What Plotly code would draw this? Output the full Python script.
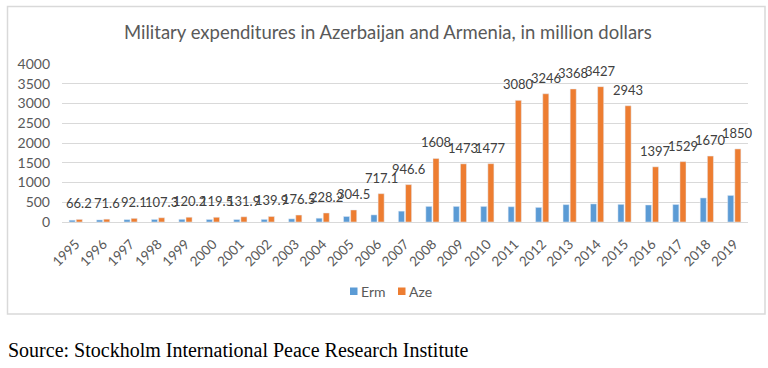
import plotly.graph_objects as go

years = [str(y) for y in range(1995, 2020)]
erm = [46, 53, 60, 65, 68, 64, 62, 66, 80, 96, 140, 180, 275, 395, 395, 395, 387, 370, 440, 458, 447, 431, 444, 609, 673]
aze = [66.2, 71.6, 92.1, 107.3, 120.2, 119.5, 131.9, 139.9, 176.5, 228.2, 304.5, 717.1, 946.6,
       1608, 1473, 1477, 3080, 3246, 3368, 3427, 2943, 1397, 1529, 1670, 1850]
aze_labels = ["66.2", "71.6", "92.1", "107.3", "120.2", "119.5", "131.9", "139.9", "176.5", "228.2",
              "304.5", "717.1", "946.6", "1608", "1473", "1477", "3080", "3246", "3368", "3427",
              "2943", "1397", "1529", "1670", "1850"]
y_ticks = [0, 500, 1000, 1500, 2000, 2500, 3000, 3500, 4000]
series_names = ["Erm", "Aze"]
series_colors = ["#5B9BD5", "#ED7D31"]

title_text = "Military expenditures in Azerbaijan and Armenia, in million dollars"
source_text = "Source: Stockholm International Peace Research Institute"

W, H = 768, 368
L, R, T, B = 62, 20, 64, 146
pw, ph = W - L - R, H - T - B

def px_x(p):
    return (p - L) / pw

def px_y(p):
    return (H - B - p) / ph

font = "Lato, 'Open Sans', sans-serif"
grey = "#595959"

fig = go.Figure()
fig.add_trace(go.Bar(x=years, y=erm, name=series_names[0], marker_color=series_colors[0]))
fig.add_trace(go.Bar(x=years, y=aze, name=series_names[1], marker_color=series_colors[1]))

annotations = []
for i, (v, t) in enumerate(zip(aze, aze_labels)):
    annotations.append(dict(x=i, y=v, xref="x", yref="y", text=t, showarrow=False,
                            yanchor="bottom", yshift=6, xshift=3.6,
                            font=dict(family=font, size=13, color="#404040")))

annotations.append(dict(x=px_x(388), y=px_y(32), xref="paper", yref="paper", text=title_text,
                        showarrow=False, xanchor="center", yanchor="middle",
                        font=dict(family=font, size=18.5, color=grey)))
annotations.append(dict(x=px_x(6), y=px_y(350), xref="paper", yref="paper", text=source_text,
                        showarrow=False, xanchor="left", yanchor="middle",
                        font=dict(family="'Liberation Serif', 'Times New Roman', serif", size=20,
                                  color="#000000")))

shapes = [dict(type="rect", xref="paper", yref="paper",
               x0=px_x(7.5), x1=px_x(765), y0=px_y(314), y1=px_y(6.5),
               line=dict(color="#d9d9d9", width=1.5), fillcolor="rgba(0,0,0,0)", layer="below")]

# manual legend (compact, like the reference)
legend_left = [350, 398]
for name, col, lx in zip(series_names, series_colors, legend_left):
    shapes.append(dict(type="rect", xref="paper", yref="paper",
                       x0=px_x(lx), x1=px_x(lx + 7.5), y0=px_y(295), y1=px_y(287.5),
                       line=dict(width=0), fillcolor=col))
    annotations.append(dict(x=px_x(lx + 9), y=px_y(291), xref="paper", yref="paper", text=name,
                            showarrow=False, xanchor="left", yanchor="middle",
                            font=dict(family=font, size=14, color=grey)))

fig.update_layout(
    width=W, height=H,
    margin=dict(l=L, r=R, t=T, b=B, pad=0, autoexpand=False),
    paper_bgcolor="white", plot_bgcolor="white",
    barmode="group", bargap=0.48, bargroupgap=0.15,
    showlegend=False,
    annotations=annotations,
    shapes=shapes,
    xaxis=dict(type="category", range=[-0.5, 24.5], autorange=False, tickangle=-45, showgrid=False,
               showline=True, linecolor="#d9d9d9", linewidth=1,
               ticks="outside", ticklen=8, tickcolor="rgba(0,0,0,0)",
               tickfont=dict(family=font, size=13.5, color=grey), automargin=False),
    yaxis=dict(range=[0, 4000], autorange=False, tickvals=y_ticks, showgrid=True, gridcolor="#d9d9d9",
               gridwidth=1, zeroline=False, showline=False, ticks="", ticklabelstandoff=11,
               tickfont=dict(family=font, size=14, color=grey), automargin=False),
)

fig.write_html("out.html", config={"displayModeBar": False},
               post_script="document.body.style.margin='0';")
